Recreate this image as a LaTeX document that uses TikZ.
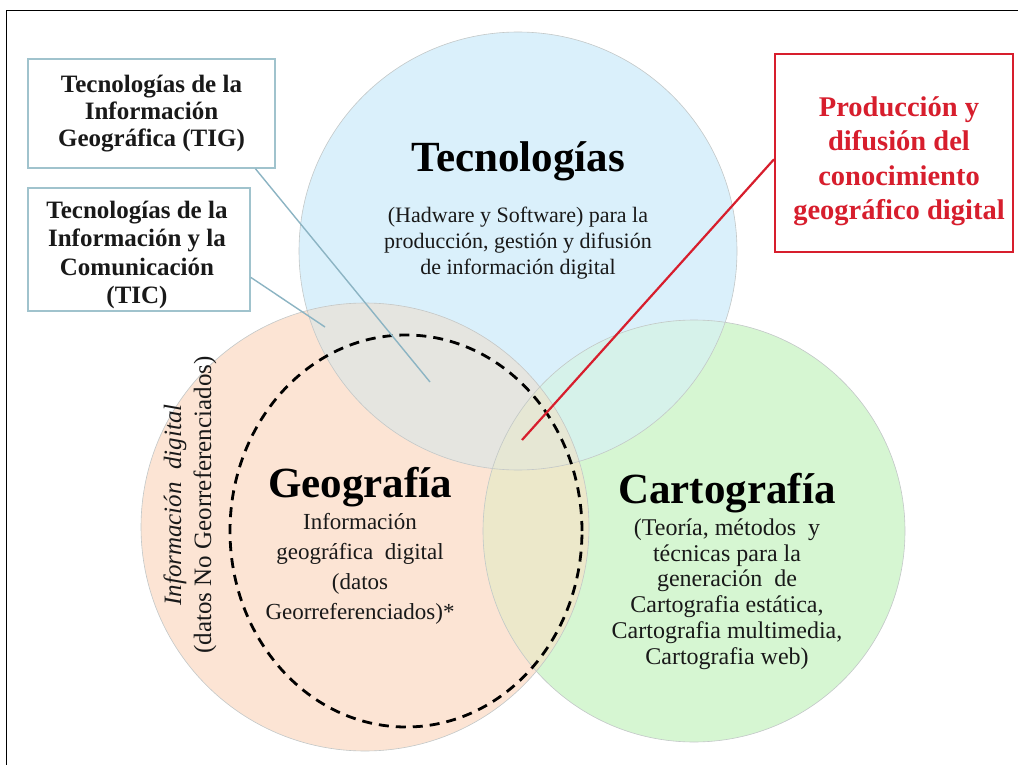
\documentclass[tikz,border=0pt]{standalone}
\usepackage{fontspec}
\setmainfont{Liberation Serif}
\usetikzlibrary{calc}
\definecolor{cblue}{RGB}{218,240,251}
\definecolor{corange}{RGB}{252,228,212}
\definecolor{cgreen}{RGB}{214,246,210}
\definecolor{cbo}{RGB}{229,229,224}
\definecolor{cbg}{RGB}{214,242,234}
\definecolor{cog}{RGB}{236,232,202}
\definecolor{cbog}{RGB}{230,231,212}
\definecolor{cedge}{RGB}{195,200,200}
\definecolor{boxedge}{RGB}{160,195,205}
\definecolor{conn}{RGB}{140,180,195}
\definecolor{cred}{RGB}{215,30,45}
\definecolor{ctext}{RGB}{25,25,25}
\tikzset{
  title/.style={font=\fontsize{43}{50}\selectfont\bfseries, text=black, inner sep=0pt},
  body/.style={align=center, text=ctext, inner sep=0pt},
  infobox/.style={draw=boxedge, line width=1.5pt, fill=white, align=center, inner sep=0pt,
    font=\fontsize{25}{27}\selectfont\bfseries, text=ctext},
  infotext/.style={align=center, inner sep=0pt, font=\fontsize{25}{28.5}\selectfont\bfseries, text=ctext},
  redbox/.style={draw=cred, line width=2pt, fill=white, inner sep=0pt},
  redtext/.style={align=center, inner sep=0pt, font=\fontsize{28.5}{34.5}\selectfont\bfseries, text=cred},
  connector/.style={draw=conn, line width=1.4pt},
  redline/.style={draw=cred, line width=2.2pt},
  edge/.style={draw=cedge, line width=0.6pt},
}
\begin{document}
\begin{tikzpicture}[x=1pt,y=-1pt]
\useasboundingbox (0,0) rectangle (1018,765);
\fill[white] (0,0) rectangle (1018,765);
% frame
\draw[black, line width=1pt] (6,780) -- (6,11) -- (1030,11);
% circles
\coordinate (cT) at (518,251);
\coordinate (cG) at (365,527);
\coordinate (cC) at (694,531);
\fill[cblue] (cT) circle[radius=219pt];
\fill[corange] (cG) circle[radius=224pt];
\fill[cgreen] (cC) circle[radius=211pt];
\begin{scope}
  \clip (cT) circle[radius=219pt];
  \fill[cbo] (cG) circle[radius=224pt];
  \fill[cbg] (cC) circle[radius=211pt];
\end{scope}
\begin{scope}
  \clip (cG) circle[radius=224pt];
  \fill[cog] (cC) circle[radius=211pt];
  \clip (cT) circle[radius=219pt];
  \fill[cbog] (cC) circle[radius=211pt];
\end{scope}
\draw[edge] (cT) circle[radius=219pt];
\draw[edge] (cG) circle[radius=224pt];
\draw[edge] (cC) circle[radius=211pt];
% dashed ellipse
\draw[black, line width=2.8pt, dash pattern=on 10pt off 7pt] (406,531) ellipse[x radius=176pt, y radius=196pt];
% texts in circles
\node[title] (tecT) at (518,161) {Tecnologías};
\node[body, font=\fontsize{22}{26}\selectfont] (tecB) at (518,243) {(Hadware y Software) para la\\producción, gestión y difusión\\de información digital};
\node[title] (geoT) at (360,487) {Geografía};
\node[body, font=\fontsize{23}{30}\selectfont] (geoB) at (360,569) {Información\\geográfica \ digital\\(datos\\Georreferenciados)*};
\node[title] (carT) at (727,493) {Cartografía};
\node[body, font=\fontsize{24}{25.7}\selectfont] (carB) at (727,594) {(Teoría, métodos \ y\\técnicas para la\\generación \ de\\Cartografia estática,\\Cartografia multimedia,\\Cartografia web)};
\node[body, rotate=90, font=\fontsize{25}{30}\selectfont] (noGeo) at (190,505) {\textit{Información \ digital}\\(datos No Georreferenciados)};
% boxes
\node[infobox, minimum width=247pt, minimum height=109pt] (tig) at (151.5,113.5) {Tecnologías de la\\Información\\Geográfica (TIG)};
\node[infobox, minimum width=222pt, minimum height=123pt] (tic) at (139,249.5) {};
\node[infotext] (ticTxt) at (137,255) {Tecnologías de la\\Información y la\\Comunicación\\(TIC)};
\node[redbox, minimum width=238pt, minimum height=198pt] (red) at (894,153) {};
\node[redtext] (redTxt) at (899,161) {Producción y\\difusión del\\conocimiento\\geográfico digital};
% connectors
\coordinate (tigEnd) at (430,382);
\coordinate (ticEnd) at (325,327);
\coordinate (redEnd) at (522,440);
\draw[connector] (tig.-28) -- (tigEnd);
\draw[connector] (tic.-14) -- (ticEnd);
\draw[redline] (red.183) -- (redEnd);
\end{tikzpicture}
\end{document}
